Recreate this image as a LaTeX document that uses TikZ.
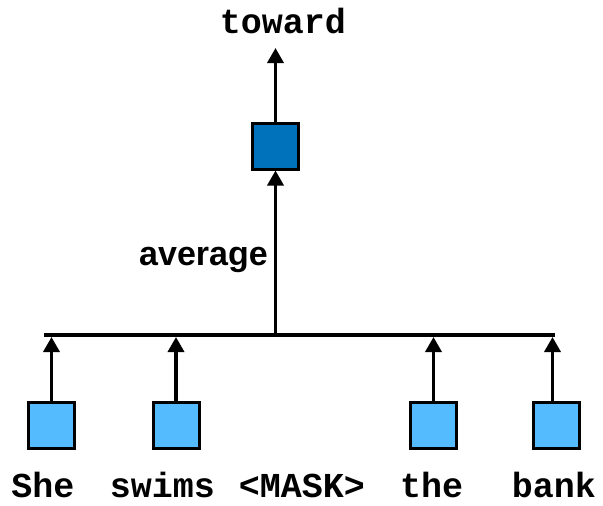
\documentclass[tikz,border=0pt]{standalone}
\usepackage{fontspec}
\setmainfont{Liberation Sans}
\setsansfont{Liberation Sans}
\setmonofont{Liberation Mono}
\usetikzlibrary{arrows.meta}
\definecolor{darkbox}{HTML}{0072BB}
\definecolor{lightbox}{HTML}{55BBFF}
\tikzset{
  word/.style={anchor=base, inner sep=0pt, font=\fontsize{35}{40}\selectfont\ttfamily\bfseries},
  lbl/.style={anchor=base, inner sep=0pt, font=\fontsize{34}{40}\selectfont\sffamily\bfseries},
  cell/.style={draw=black, line width=3pt, minimum size=46pt, inner sep=0pt},
  lightcell/.style={cell, fill=lightbox},
  darkcell/.style={cell, fill=darkbox},
  arr/.style={line width=3.5pt, -{Triangle[width=16pt,length=15pt]}},
  bar/.style={line width=4pt}
}
\begin{document}
\begin{tikzpicture}[x=1pt,y=-1pt]
\useasboundingbox (0,0) rectangle (603,506);
% top
\node[word] (toward) at (283,33) {toward};
\node[darkcell] (top) at (275.5,146) {};
\coordinate (toptip) at (275.5,48);
\draw[arr] (top.north) -- (toptip);
% average
\node[lbl] (avg) at (203.5,265) {average};
% horizontal bar
\coordinate (hl) at (44,335);
\coordinate (hr) at (555,335);
\coordinate (hm) at (275.5,335);
\draw[bar] (hl) -- (hr);
\draw[arr] (hm) -- (top.south);
% boxes
\node[lightcell] (b1) at (51.5,425) {};
\node[lightcell] (b2) at (176,425) {};
\node[lightcell] (b4) at (433.5,425) {};
\node[lightcell] (b5) at (556,425) {};
\foreach \b in {b1,b2,b4}{
  \draw[arr, shorten >=2pt] (\b.north) -- (\b.north |- hl);
}
\coordinate (b5a) at (552.5,401);
\draw[arr, shorten >=2pt] (b5a) -- (b5a |- hl);
% words
\node[word] (w1) at (43,497) {She};
\node[word] (w2) at (162.5,497) {swims};
\node[word] (w3) at (302,497) {<MASK>};
\node[word] (w4) at (431.7,497) {the};
\node[word] (w5) at (554,497) {bank};
\end{tikzpicture}
\end{document}
